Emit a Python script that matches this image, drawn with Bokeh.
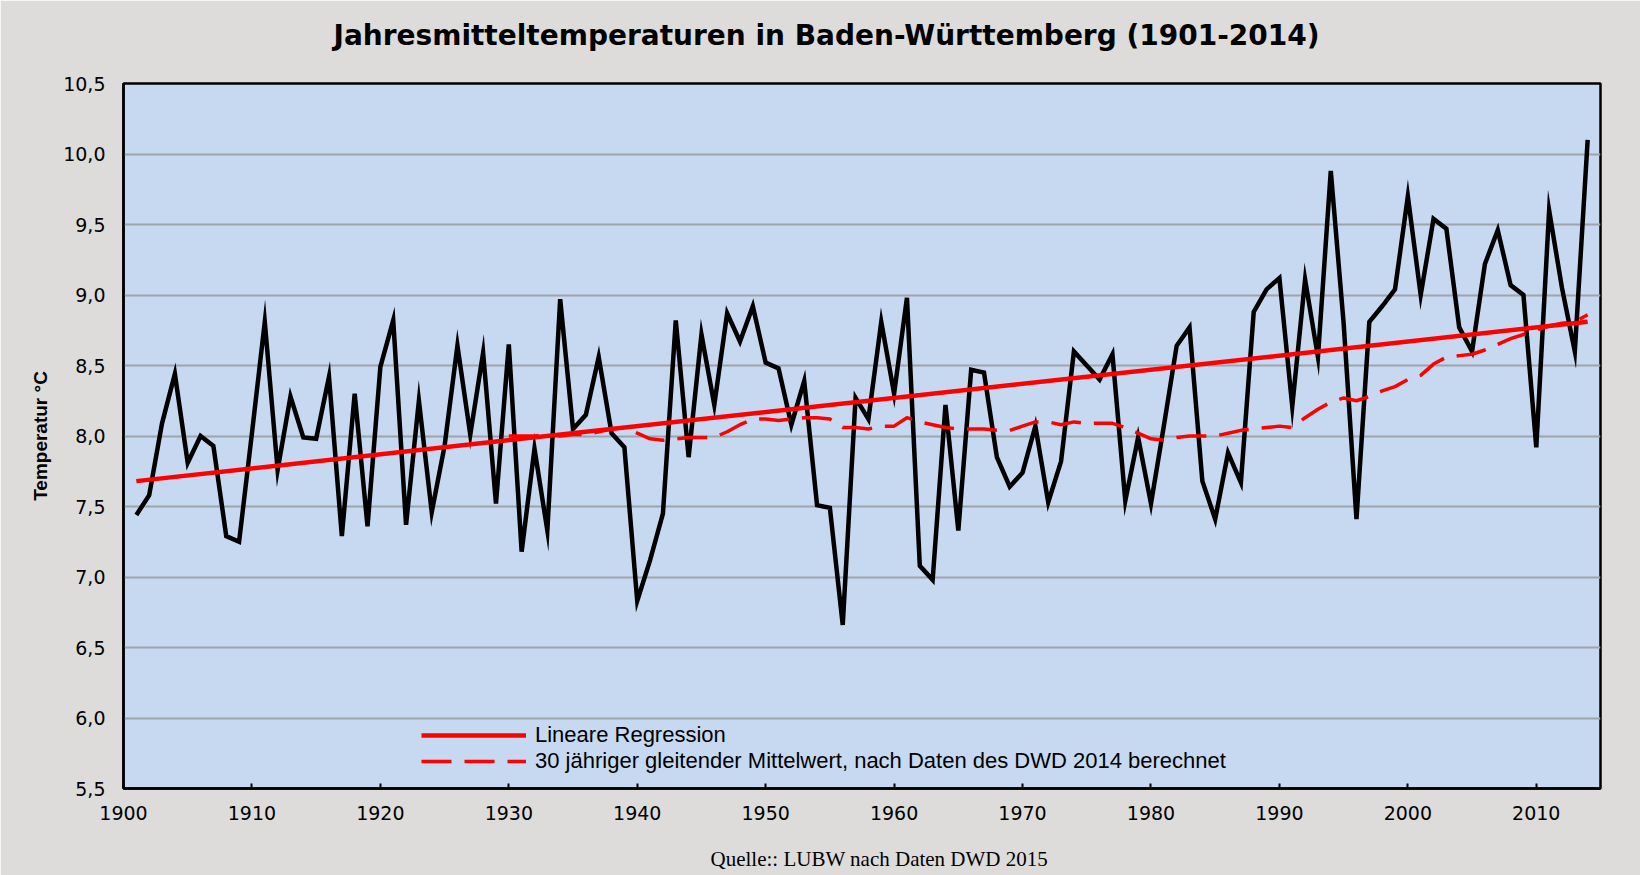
from bokeh.plotting import figure
from bokeh.models import Legend, LegendItem, FixedTicker, Title
from bokeh.embed import file_html
from bokeh.resources import INLINE

# ---------------- data ----------------
years = list(range(1901, 2015))
temps = [
    7.44, 7.58, 8.09, 8.44, 7.81, 8.00, 7.93, 7.29, 7.25, 8.02,   # 1901-1910
    8.81, 7.76, 8.28, 7.99, 7.98, 8.42, 7.29, 8.30, 7.36, 8.49,   # 1911-1920
    8.82, 7.37, 8.25, 7.46, 7.93, 8.64, 8.01, 8.59, 7.52, 8.65,   # 1921-1930
    7.18, 7.91, 7.33, 8.97, 8.05, 8.15, 8.56, 8.02, 7.92, 6.83,   # 1931-1940
    7.12, 7.45, 8.82, 7.85, 8.72, 8.22, 8.87, 8.67, 8.92, 8.52,   # 1941-1950
    8.48, 8.08, 8.39, 7.51, 7.49, 6.66, 8.27, 8.12, 8.81, 8.30,   # 1951-1960
    8.98, 7.08, 6.98, 8.22, 7.33, 8.47, 8.45, 7.85, 7.64, 7.74,   # 1961-1970
    8.07, 7.53, 7.82, 8.60, 8.50, 8.40, 8.58, 7.54, 7.99, 7.52,   # 1971-1980
    8.07, 8.64, 8.77, 7.68, 7.41, 7.88, 7.67, 8.88, 9.04, 9.12,   # 1981-1990
    8.21, 9.11, 8.56, 9.88, 8.80, 7.41, 8.81, 8.92, 9.04, 9.70,   # 1991-2000
    9.00, 9.54, 9.47, 8.77, 8.60, 9.22, 9.46, 9.07, 9.00, 7.92,   # 2001-2010
    9.60, 9.05, 8.60, 10.10,                                      # 2011-2014
]

reg_years = [1901, 2014]
reg_values = [7.68, 8.81]

ma_years = list(range(1930, 2015))
ma_values = [
    8.00, 8.00, 8.00, 8.01, 8.00, 8.01, 8.01, 8.03, 8.05, 8.06,   # 1930-1939
    8.02, 7.98, 7.97, 7.98, 7.99, 7.99, 7.99, 8.03, 8.08, 8.12,   # 1940-1949
    8.12, 8.11, 8.12, 8.13, 8.13, 8.12, 8.06, 8.06, 8.05, 8.07,   # 1950-1959
    8.07, 8.13, 8.10, 8.08, 8.06, 8.05, 8.05, 8.05, 8.04, 8.04,   # 1960-1969
    8.07, 8.10, 8.10, 8.08, 8.10, 8.09, 8.09, 8.09, 8.06, 8.02,   # 1970-1979
    7.98, 7.97, 7.99, 8.00, 8.00, 8.00, 8.02, 8.04, 8.05, 8.06,   # 1980-1989
    8.07, 8.06, 8.13, 8.19, 8.24, 8.27, 8.25, 8.28, 8.32, 8.35,   # 1990-1999
    8.40, 8.43, 8.51, 8.56, 8.57, 8.58, 8.61, 8.65, 8.69, 8.72,   # 2000-2009
    8.75, 8.78, 8.80, 8.81, 8.86,                                 # 2010-2014
]

x_ticks = [1900, 1910, 1920, 1930, 1940, 1950, 1960, 1970, 1980, 1990, 2000, 2010]
y_ticks = [5.5, 6.0, 6.5, 7.0, 7.5, 8.0, 8.5, 9.0, 9.5, 10.0, 10.5]
y_tick_labels = ["5,5", "6,0", "6,5", "7,0", "7,5", "8,0", "8,5", "9,0", "9,5", "10,0", "10,5"]

title_text = "Jahresmitteltemperaturen in Baden-Württemberg (1901-2014)"
y_label = "Temperatur °C"
legend_labels = ["Lineare Regression",
                 "30 jähriger gleitender Mittelwert, nach Daten des DWD 2014 berechnet"]
source_text = "Quelle:: LUBW nach Daten DWD 2015"

BG = "#DDDCDA"

# ---------------- figure ----------------
p = figure(width=1640, height=875, x_range=(1900, 2015), y_range=(5.5, 10.5),
           output_backend="svg", toolbar_location=None,
           min_border_left=123, min_border_right=40,
           min_border_top=83, min_border_bottom=87)
p.border_fill_color = BG
p.background_fill_color = "#C6D9F1"
p.outline_line_color = "black"
p.outline_line_width = 2.5

# grids
p.xgrid.grid_line_color = None
p.ygrid.grid_line_color = "#9EA4AC"
p.ygrid.grid_line_width = 1.8
p.ygrid.ticker = FixedTicker(ticks=y_ticks)

# x axis
p.xaxis.ticker = FixedTicker(ticks=x_ticks)
p.xaxis.minor_tick_line_color = None
p.xaxis.major_tick_in = 5
p.xaxis.major_tick_out = 0
p.xaxis.major_tick_line_width = 2
p.xaxis.major_tick_line_color = "black"
p.xaxis.axis_line_width = 2.5
p.xaxis.axis_line_color = "black"
p.xaxis.major_label_standoff = 17
p.xaxis.major_label_text_font = "DejaVu Sans"
p.xaxis.major_label_text_font_size = "19px"
p.xaxis.major_label_text_color = "black"

# y axis
p.yaxis.ticker = FixedTicker(ticks=y_ticks)
p.yaxis.major_label_overrides = {t: l for t, l in zip(y_ticks, y_tick_labels)}
p.yaxis.minor_tick_line_color = None
p.yaxis.major_tick_in = 0
p.yaxis.major_tick_out = 0
p.yaxis.axis_line_width = 2.5
p.yaxis.axis_line_color = "black"
p.yaxis.major_label_standoff = 18
p.yaxis.major_label_text_font = "DejaVu Sans"
p.yaxis.major_label_text_font_size = "19px"
p.yaxis.major_label_text_color = "black"
p.yaxis.axis_label = y_label
p.yaxis.axis_label_text_font = "Liberation Sans"
p.yaxis.axis_label_text_font_size = "19px"
p.yaxis.axis_label_text_font_style = "bold"
p.yaxis.axis_label_text_color = "black"
p.yaxis.axis_label_standoff = 9

# ---------------- series ----------------
p.line(years, temps, line_color="black", line_width=4.5, line_join="miter")
r_reg = p.line(reg_years, reg_values, line_color="#FF0000", line_width=4.5)
r_ma = p.line(ma_years, ma_values, line_color="#FF0000", line_width=3.5,
              line_dash="30 13", line_join="round")

legend = Legend(items=[LegendItem(label=legend_labels[0], renderers=[r_reg]),
                       LegendItem(label=legend_labels[1], renderers=[r_ma])],
                location=(298, 14), orientation="vertical",
                label_text_font="Liberation Sans", label_text_font_size="22px",
                label_text_color="black",
                glyph_width=105, glyph_height=18, label_height=18,
                label_standoff=9, spacing=-4, padding=0, margin=0,
                background_fill_alpha=0, border_line_alpha=0)
p.add_layout(legend)

# title (above): background-coloured spacer next to the frame, then the title
p.add_layout(Title(text=".", text_color=BG, text_font_size="2px", standoff=29), "above")
p.add_layout(Title(text=title_text, align="left", offset=210, standoff=0,
                   text_font="DejaVu Sans", text_font_style="bold",
                   text_font_size="28px", text_color="black"), "above")

# source (below the x axis): spacer first, then the source line
p.add_layout(Title(text=".", text_color=BG, text_font_size="2px", standoff=19), "below")
p.add_layout(Title(text=source_text, align="left", offset=587, standoff=0,
                   text_font="Liberation Serif", text_font_style="normal",
                   text_font_size="21px", text_color="black"), "below")

open("out.html", "w").write(file_html(p, INLINE))
